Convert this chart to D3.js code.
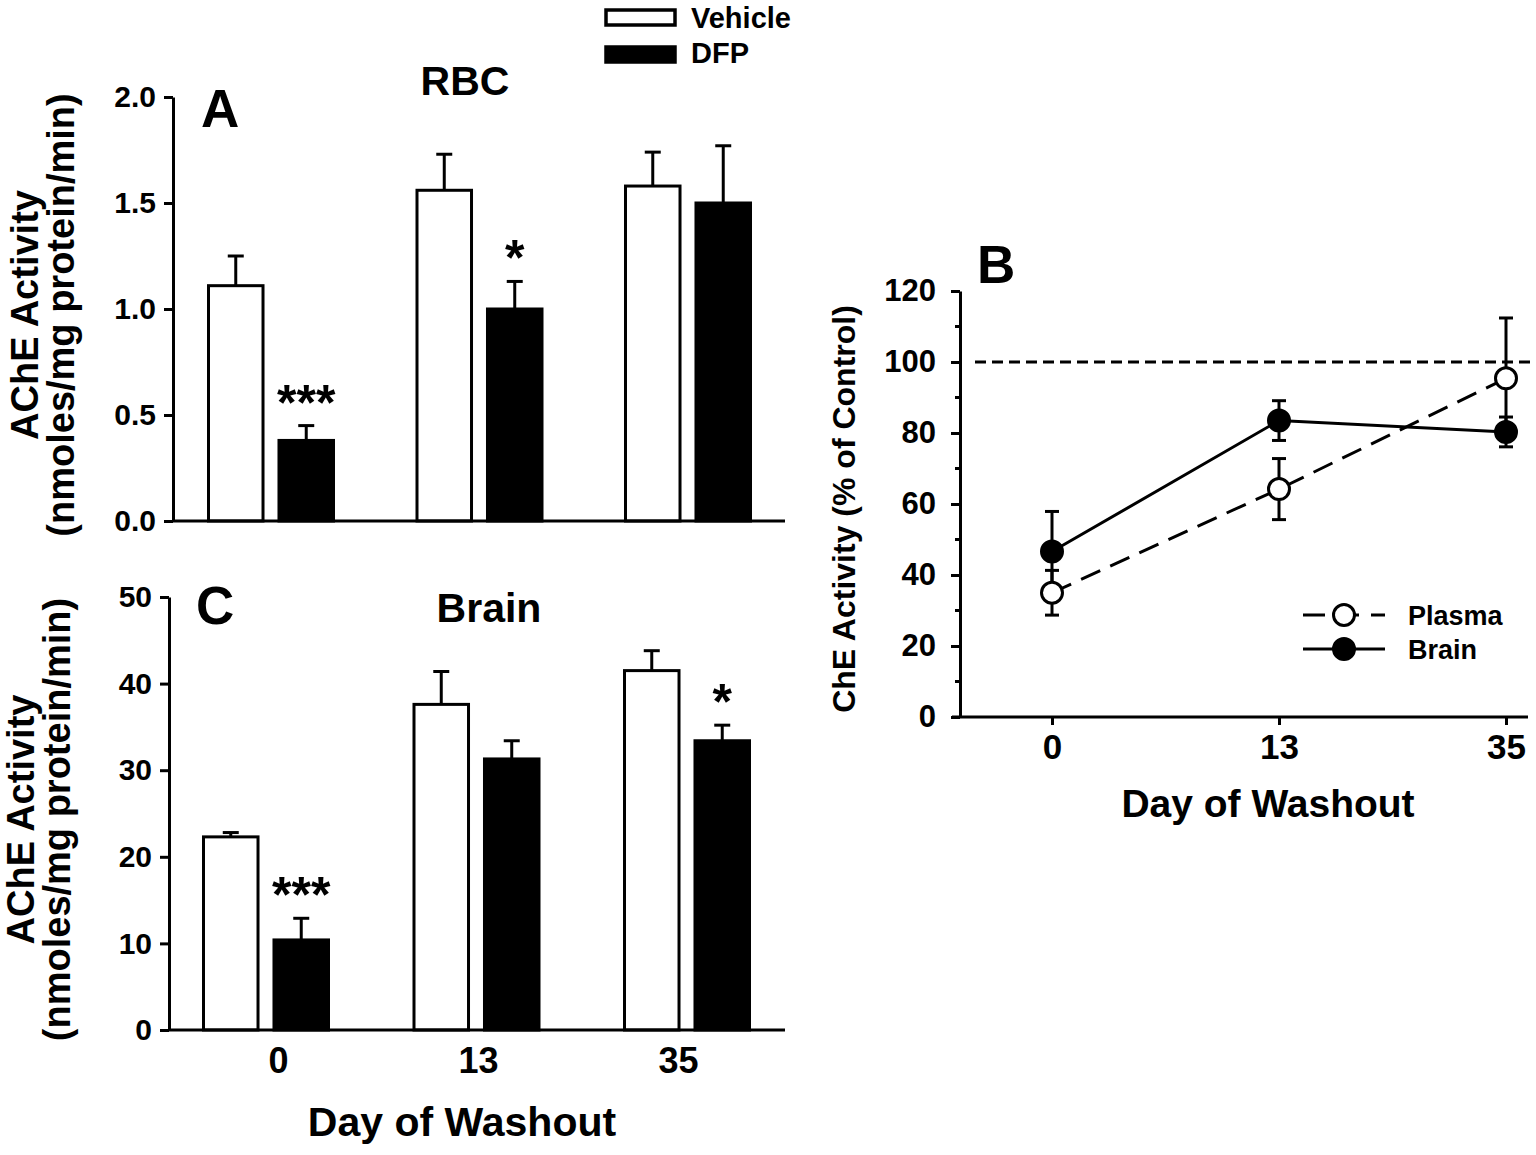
<!DOCTYPE html>
<html lang="en">
  <head>
    <meta charset="UTF-8" />
    <title>ChE activity after DFP washout</title>
    <style>
      body {
        margin: 0;
        background: #fff;
      }
      svg text {
        font-family: "Liberation Sans", Arial, sans-serif;
        font-weight: bold;
        fill: #000;
      }
    </style>
  </head>
  <body>
    <div id="chart"></div>
    <script src="https://cdn.jsdelivr.net/npm/d3@7"></script>
    <script>
      // day of washout, shared by all three panels
      var days = ["0", "13", "35"];
      var groups = ["Vehicle", "DFP"];

      // panel A - RBC AChE activity (nmoles/mg protein/min)
      var rbcVehicle = [1.11, 1.56, 1.58];
      var rbcVehicleSem = [0.14, 0.17, 0.16];
      var rbcDfp = [0.38, 1.0, 1.5];
      var rbcDfpSem = [0.07, 0.13, 0.27];
      var rbcStars = ["***", "*", ""];
      var rbcTicks = [0, 0.5, 1, 1.5, 2];

      // panel C - brain AChE activity
      var brainVehicle = [22.3, 37.6, 41.5];
      var brainVehicleSem = [0.5, 3.8, 2.3];
      var brainDfp = [10.4, 31.3, 33.4];
      var brainDfpSem = [2.5, 2.1, 1.8];
      var brainStars = ["***", "", "*"];
      var brainTicks = [0, 10, 20, 30, 40, 50];

      // panel B - ChE activity, % of control
      var plasmaPct = [35, 64.2, 95.4];
      var plasmaPctSem = [6.3, 8.6, 17];
      var brainPct = [46.6, 83.5, 80.3];
      var brainPctSem = [11.3, 5.6, 4.2];
      var pctTicks = [0, 20, 40, 60, 80, 100, 120];
      var pctMinorTicks = [10, 30, 50, 70, 90, 110];

      var svg = d3
        .select("#chart")
        .append("svg")
        .attr("width", 1536)
        .attr("height", 1155);

      svg.append("rect").attr("width", 1536).attr("height", 1155).attr("fill", "#fff");

      function styleAxis(ax, fontSize) {
        ax.selectAll(".domain").attr("stroke", "#000").attr("stroke-width", 3);
        ax.selectAll(".tick line").attr("stroke", "#000").attr("stroke-width", 3);
        ax.selectAll("text")
          .attr("font-size", fontSize)
          .attr("font-family", null)
          .attr("fill", "#000");
      }

      // grouped bar panel (A and C)
      function barPanel(p) {
        var g = svg.append("g");
        var x = d3.scalePoint().domain(days).range(p.xRange);
        var sub = d3.scaleBand().domain(groups).range([-64, 64]).paddingInner(0.184);
        var y = d3.scaleLinear().domain([0, p.yMax]).range([p.yBottom, p.yTop]);

        var rows = [];
        days.forEach(function (d, i) {
          rows.push({ day: d, group: "Vehicle", v: p.vehicle[i], e: p.vehicleSem[i], star: "" });
          rows.push({ day: d, group: "DFP", v: p.dfp[i], e: p.dfpSem[i], star: p.stars[i] });
        });

        function cx(r) {
          return x(r.day) + sub(r.group) + sub.bandwidth() / 2;
        }

        // error bars (upper half only)
        g.selectAll(".err")
          .data(rows)
          .join("line")
          .attr("x1", cx)
          .attr("x2", cx)
          .attr("y1", function (r) { return y(r.v); })
          .attr("y2", function (r) { return y(r.v + r.e); })
          .attr("stroke", "#000")
          .attr("stroke-width", 3);
        g.selectAll(".cap")
          .data(rows)
          .join("line")
          .attr("x1", function (r) { return cx(r) - 8; })
          .attr("x2", function (r) { return cx(r) + 8; })
          .attr("y1", function (r) { return y(r.v + r.e); })
          .attr("y2", function (r) { return y(r.v + r.e); })
          .attr("stroke", "#000")
          .attr("stroke-width", 3);

        g.selectAll(".bar")
          .data(rows)
          .join("rect")
          .attr("x", function (r) { return x(r.day) + sub(r.group) + 1.5; })
          .attr("width", sub.bandwidth() - 3)
          .attr("y", function (r) { return y(r.v); })
          .attr("height", function (r) { return y(0) - y(r.v); })
          .attr("fill", function (r) { return r.group == "DFP" ? "#000" : "#fff"; })
          .attr("stroke", "#000")
          .attr("stroke-width", 3);

        g.selectAll(".star")
          .data(rows.filter(function (r) { return r.star; }))
          .join("text")
          .attr("x", cx)
          .attr("y", function (r) { return y(r.v + r.e) - 6; })
          .attr("text-anchor", "middle")
          .attr("font-size", 50)
          .text(function (r) { return r.star; });

        var yAxis = g
          .append("g")
          .attr("transform", "translate(" + p.axisX + ",0)")
          .call(
            d3.axisLeft(y)
              .tickValues(p.ticks)
              .tickSize(9)
              .tickSizeOuter(0)
              .tickPadding(8)
              .tickFormat(p.fmt)
          );
        styleAxis(yAxis, 30);

        g.append("line")
          .attr("x1", p.axisX)
          .attr("x2", 785)
          .attr("y1", y(0))
          .attr("y2", y(0))
          .attr("stroke", "#000")
          .attr("stroke-width", 3);

        if (p.labelRange) {
          var xl = d3.scalePoint().domain(days).range(p.labelRange);
          var xAxis = g
            .append("g")
            .attr("transform", "translate(0," + y(0) + ")")
            .call(d3.axisBottom(xl).tickSize(0).tickPadding(17));
          xAxis.select(".domain").remove();
          styleAxis(xAxis, 36);
        }

        g.append("text")
          .attr("x", p.letterX)
          .attr("y", p.letterY)
          .attr("font-size", 53)
          .text(p.letter);
        g.append("text")
          .attr("x", p.titleX)
          .attr("y", p.titleY)
          .attr("text-anchor", "middle")
          .attr("font-size", 41)
          .text(p.title);

        var ymid = (p.yBottom + p.yTop) / 2 + 6;
        g.append("text")
          .attr("transform", "translate(" + (p.axisX - 135) + "," + ymid + ") rotate(-90)")
          .attr("text-anchor", "middle")
          .attr("font-size", 38)
          .text("AChE Activity");
        g.append("text")
          .attr("transform", "translate(" + (p.axisX - 99) + "," + ymid + ") rotate(-90)")
          .attr("text-anchor", "middle")
          .attr("font-size", 38)
          .text("(nmoles/mg protein/min)");
      }

      barPanel({
        vehicle: rbcVehicle,
        vehicleSem: rbcVehicleSem,
        dfp: rbcDfp,
        dfpSem: rbcDfpSem,
        stars: rbcStars,
        ticks: rbcTicks,
        fmt: d3.format(".1f"),
        yMax: 2,
        yBottom: 521,
        yTop: 97,
        axisX: 173,
        xRange: [271, 688],
        letter: "A",
        letterX: 201,
        letterY: 127,
        title: "RBC",
        titleX: 465,
        titleY: 95,
      });

      barPanel({
        vehicle: brainVehicle,
        vehicleSem: brainVehicleSem,
        dfp: brainDfp,
        dfpSem: brainDfpSem,
        stars: brainStars,
        ticks: brainTicks,
        fmt: d3.format("d"),
        yMax: 50,
        yBottom: 1030,
        yTop: 597,
        axisX: 169,
        xRange: [266, 687],
        labelRange: [278, 678],
        letter: "C",
        letterX: 196,
        letterY: 624,
        title: "Brain",
        titleX: 489,
        titleY: 622,
      });

      // legend for the bar panels
      var barLegend = svg.append("g");
      groups.forEach(function (name, i) {
        barLegend
          .append("rect")
          .attr("x", 606)
          .attr("y", 10 + i * 37)
          .attr("width", 69)
          .attr("height", 15)
          .attr("fill", name == "DFP" ? "#000" : "#fff")
          .attr("stroke", "#000")
          .attr("stroke-width", 3.5);
        barLegend
          .append("text")
          .attr("x", 691)
          .attr("y", 28 + i * 35)
          .attr("font-size", 29)
          .text(name);
      });

      svg.append("text")
        .attr("x", 462)
        .attr("y", 1136)
        .attr("text-anchor", "middle")
        .attr("font-size", 41)
        .text("Day of Washout");

      // panel B - line chart
      var gB = svg.append("g");
      var xB = d3.scalePoint().domain(days).range([1052, 1506]);
      var yB = d3.scaleLinear().domain([0, 120]).range([717, 291]);
      var axisBX = 960;

      var yAxisB = gB
        .append("g")
        .attr("transform", "translate(" + axisBX + ",0)")
        .call(d3.axisLeft(yB).tickValues(pctTicks).tickSize(9).tickSizeOuter(0).tickPadding(15));
      styleAxis(yAxisB, 31);
      gB.selectAll(".minor")
        .data(pctMinorTicks)
        .join("line")
        .attr("x1", axisBX - 5)
        .attr("x2", axisBX)
        .attr("y1", function (d) { return yB(d); })
        .attr("y2", function (d) { return yB(d); })
        .attr("stroke", "#000")
        .attr("stroke-width", 3);

      gB.append("line")
        .attr("x1", axisBX - 8)
        .attr("x2", 1528)
        .attr("y1", yB(0))
        .attr("y2", yB(0))
        .attr("stroke", "#000")
        .attr("stroke-width", 3);
      var xAxisB = gB
        .append("g")
        .attr("transform", "translate(0," + yB(0) + ")")
        .call(d3.axisBottom(xB).tickSize(8).tickPadding(9));
      xAxisB.select(".domain").remove();
      styleAxis(xAxisB, 35);

      // 100% reference
      gB.append("line")
        .attr("x1", 975)
        .attr("x2", 1532)
        .attr("y1", yB(100))
        .attr("y2", yB(100))
        .attr("stroke", "#000")
        .attr("stroke-width", 3)
        .attr("stroke-dasharray", "11,6");

      var series = [
        { name: "Plasma", vals: plasmaPct, sem: plasmaPctSem, fill: "#fff", dash: "21,11" },
        { name: "Brain", vals: brainPct, sem: brainPctSem, fill: "#000", dash: null },
      ];

      var line = d3
        .line()
        .x(function (d) { return xB(d.day); })
        .y(function (d) { return yB(d.v); });

      series.forEach(function (s) {
        s.pts = days.map(function (d, i) {
          return { day: d, v: s.vals[i], e: s.sem[i] };
        });
        gB.append("path")
          .attr("d", line(s.pts))
          .attr("fill", "none")
          .attr("stroke", "#000")
          .attr("stroke-width", 3)
          .attr("stroke-dasharray", s.dash);
      });

      series.forEach(function (s) {
        var eb = gB.append("g");
        eb.selectAll("line.v")
          .data(s.pts)
          .join("line")
          .attr("x1", function (d) { return xB(d.day); })
          .attr("x2", function (d) { return xB(d.day); })
          .attr("y1", function (d) { return yB(d.v - d.e); })
          .attr("y2", function (d) { return yB(d.v + d.e); })
          .attr("stroke", "#000")
          .attr("stroke-width", 3);
        [-1, 1].forEach(function (sign) {
          eb.selectAll("line.c" + sign)
            .data(s.pts)
            .join("line")
            .attr("x1", function (d) { return xB(d.day) - 7; })
            .attr("x2", function (d) { return xB(d.day) + 7; })
            .attr("y1", function (d) { return yB(d.v + sign * d.e); })
            .attr("y2", function (d) { return yB(d.v + sign * d.e); })
            .attr("stroke", "#000")
            .attr("stroke-width", 3);
        });
      });

      series.forEach(function (s) {
        gB.selectAll(null)
          .data(s.pts)
          .join("circle")
          .attr("cx", function (d) { return xB(d.day); })
          .attr("cy", function (d) { return yB(d.v); })
          .attr("r", 10.5)
          .attr("fill", s.fill)
          .attr("stroke", "#000")
          .attr("stroke-width", 3);
      });

      // legend for panel B
      series.forEach(function (s, i) {
        var ly = 615 + i * 34;
        gB.append("line")
          .attr("x1", 1303)
          .attr("x2", 1385)
          .attr("y1", ly)
          .attr("y2", ly)
          .attr("stroke", "#000")
          .attr("stroke-width", 3)
          .attr("stroke-dasharray", s.dash ? "22,12" : null);
        gB.append("circle")
          .attr("cx", 1344)
          .attr("cy", ly)
          .attr("r", 10.5)
          .attr("fill", s.fill)
          .attr("stroke", "#000")
          .attr("stroke-width", 3);
        gB.append("text")
          .attr("x", 1408)
          .attr("y", ly + 10)
          .attr("font-size", 27)
          .text(s.name);
      });

      gB.append("text")
        .attr("x", 977)
        .attr("y", 283)
        .attr("font-size", 53)
        .text("B");

      gB.append("text")
        .attr("transform", "translate(855,509) rotate(-90)")
        .attr("text-anchor", "middle")
        .attr("font-size", 32)
        .text("ChE Activity (% of Control)");

      gB.append("text")
        .attr("x", 1268)
        .attr("y", 817)
        .attr("text-anchor", "middle")
        .attr("font-size", 39)
        .text("Day of Washout");
    </script>
  </body>
</html>
